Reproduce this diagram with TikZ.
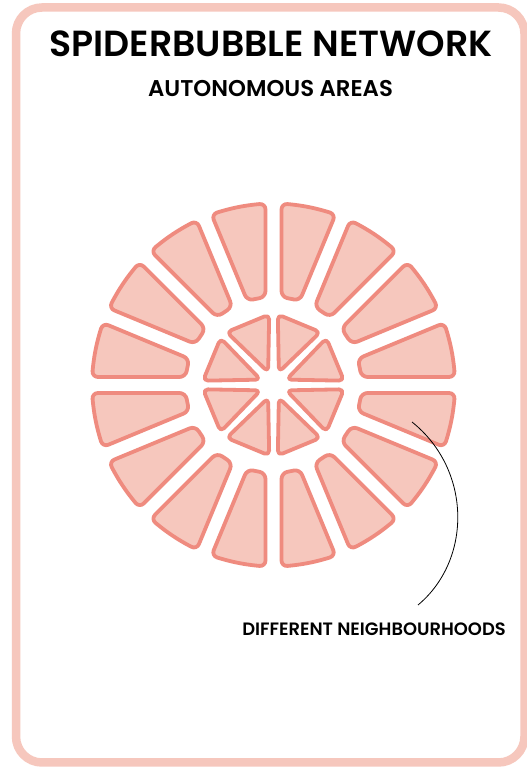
\documentclass[tikz,border=0pt]{standalone}
\usepackage{fontspec}
\setmainfont{Poppins}[UprightFont=* SemiBold, BoldFont=* Bold]
\usetikzlibrary{calc}
\definecolor{framepink}{HTML}{F6C7BD}
\definecolor{segfill}{HTML}{F6C7BD}
\definecolor{segline}{HTML}{EF8B7F}
\begin{document}
\begin{tikzpicture}[x=1pt,y=1pt,
  segment/.style={draw=segline, fill=segfill, line width=3.8pt, rounded corners=6pt, line join=round},
  tri/.style={segment, rounded corners=5pt},
  titletext/.style={font=\fontsize{36.3}{40}\selectfont, anchor=base, inner sep=0pt},
  subtext/.style={font=\fontsize{22.8}{26}\selectfont, anchor=base, inner sep=0pt},
  labeltext/.style={font=\fontsize{17.9}{20}\selectfont, anchor=base, inner sep=0pt},
  leader/.style={draw=black, line width=0.8pt}]
\useasboundingbox (0,0) rectangle (527,768);
\fill[white] (0,0) rectangle (527,768);
\draw[framepink, line width=8.5pt, rounded corners=26pt] (16,5.5) rectangle (524.5,760.5);
\node[titletext] (title) at (271,711) {SPIDERBUBBLE NETWORK};
\node[subtext] (subtitle) at (270.5,671) {AUTONOMOUS AREAS};
\coordinate (C) at (273.5,383);
\foreach \k in {0,...,15}{
  \pgfmathsetmacro{\a}{\k*22.5}
  \pgfmathsetmacro{\b}{\a+22.5}
  \path[segment] ($(C)+(\a:88)+(\a+90:8)$) -- ($(C)+(\a:181.5)+(\a+90:8)$)
    -- ($(C)+(\a+7:181.5)$) -- ($(C)+(\a+11.25:181.5)$) -- ($(C)+(\a+15.5:181.5)$)
    -- ($(C)+(\b:181.5)+(\b-90:8)$) -- ($(C)+(\b:88)+(\b-90:8)$) -- cycle;
}
\foreach \k in {0,...,7}{
  \pgfmathsetmacro{\a}{\k*45}
  \pgfmathsetmacro{\b}{\a+45}
  \pgfmathsetmacro{\m}{\a+22.5}
  \path[tri] ($(C)+(\m:14)$) -- ($(C)+(\a:70.5)+(\a+90:4.3)$) -- ($(C)+(\b:70.5)+(\b-90:4.3)$) -- cycle;
}
\node[labeltext] (nbh) at (374,132) {DIFFERENT NEIGHBOURHOODS};
\coordinate (tip) at (412,346);
\coordinate (tail) at (418,163);
\draw[leader] (tip) .. controls (472,298) and (472,208) .. (tail);
\end{tikzpicture}
\end{document}
